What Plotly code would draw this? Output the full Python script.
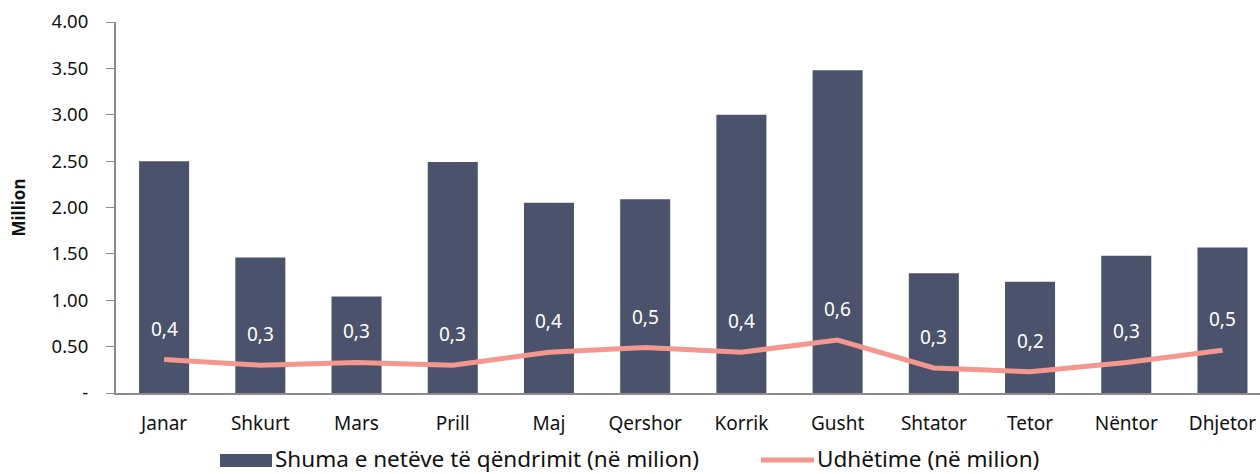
import plotly.graph_objects as go

months = ["Janar", "Shkurt", "Mars", "Prill", "Maj", "Qershor", "Korrik", "Gusht",
          "Shtator", "Tetor", "Nëntor", "Dhjetor"]
nights = [2.50, 1.46, 1.04, 2.49, 2.05, 2.09, 3.00, 3.48, 1.29, 1.20, 1.48, 1.57]
trips = [0.36, 0.30, 0.33, 0.30, 0.44, 0.49, 0.44, 0.57, 0.27, 0.23, 0.33, 0.46]
trip_labels = ["0,4", "0,3", "0,3", "0,3", "0,4", "0,5", "0,4", "0,6", "0,3", "0,2", "0,3", "0,5"]
y_ticks = [0, 0.5, 1.0, 1.5, 2.0, 2.5, 3.0, 3.5, 4.0]
y_ticktext = ["-", "0.50", "1.00", "1.50", "2.00", "2.50", "3.00", "3.50", "4.00"]
bar_name = "Shuma e netëve të qëndrimit (në milion)"
line_name = "Udhëtime (në milion)"

FONT = "Noto Sans"
BAR = "#4B536C"
LINE = "#F4978E"

W, H = 1260, 474
ML, MR, MT, MB = 116, 0, 22, 81
PW, PH = W - ML - MR, H - MT - MB


def px(xp):
    return (xp - ML) / PW


def py(yp):
    return (H - MB - yp) / PH


fig = go.Figure()
fig.add_trace(go.Bar(x=months, y=nights, name=bar_name, showlegend=False,
                     marker=dict(color=BAR, line=dict(width=0)), width=0.52))
fig.add_trace(go.Scatter(x=months, y=trips, name=line_name, mode="lines", showlegend=False,
                         line=dict(color=LINE, width=5)))

for m, v, t in zip(months, trips, trip_labels):
    fig.add_annotation(x=m, y=v, text=t, showarrow=False, yshift=31,
                       font=dict(family=FONT, size=19, color="white"))

# legend drawn manually (wide swatches as in the reference)
fig.add_shape(type="rect", xref="paper", yref="paper",
              x0=px(220), x1=px(272), y0=py(467), y1=py(454),
              fillcolor=BAR, line=dict(width=0))
fig.add_annotation(xref="paper", yref="paper", x=px(274), y=py(458), text=bar_name,
                   showarrow=False, xanchor="left", yanchor="middle", borderpad=0,
                   font=dict(family=FONT, size=22.5, color="#111111"))
fig.add_shape(type="line", xref="paper", yref="paper",
              x0=px(761), x1=px(814), y0=py(460), y1=py(460),
              line=dict(color=LINE, width=5))
fig.add_annotation(xref="paper", yref="paper", x=px(816), y=py(458), text=line_name,
                   showarrow=False, xanchor="left", yanchor="middle", borderpad=0,
                   font=dict(family=FONT, size=22.5, color="#111111"))

fig.update_layout(
    width=W, height=H,
    margin=dict(l=ML, r=MR, t=MT, b=MB),
    paper_bgcolor="white", plot_bgcolor="white",
    font=dict(family=FONT, size=18, color="#111111"),
    showlegend=False,
)
fig.update_xaxes(range=[-0.5, 11.39], showline=True, linecolor="#8C8C8C", linewidth=2,
                 ticks="", showgrid=False, tickfont=dict(size=19), ticklabelstandoff=12,
                 automargin=False)
fig.update_yaxes(range=[0, 4.0], tickvals=y_ticks, ticktext=y_ticktext, showgrid=False,
                 showline=True, linecolor="#8C8C8C", linewidth=2, ticks="outside",
                 ticklen=8, tickcolor="#8C8C8C", zeroline=False, automargin=False,
                 ticklabelstandoff=14,
                 title=dict(text="<b>Million</b>", font=dict(size=17), standoff=22),
                 tickfont=dict(size=18.5))

fig.write_html("out.html", config={"displayModeBar": False},
               post_script="document.body.style.margin='0';document.body.style.overflow='hidden';")
